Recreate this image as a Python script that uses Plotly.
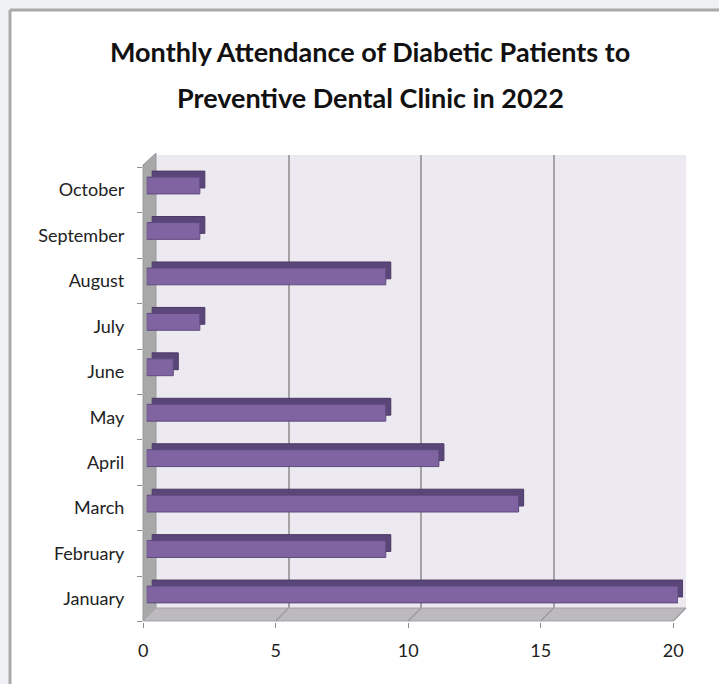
import plotly.graph_objects as go

months = ["January", "February", "March", "April", "May", "June",
          "July", "August", "September", "October"]
patients = [20, 9, 14, 11, 9, 1, 2, 9, 2, 2]
x_ticks = [0, 5, 10, 15, 20]
title_lines = ["Monthly Attendance of Diabetic Patients to",
               "Preventive Dental Clinic in 2022"]

W, H = 719, 684
def fx(p): return p / W
def fy(p): return 1 - p / H

FONT = "Lato"
FRONT = "#8064A2"
DARK = "#5B467A"
WALL = "#ECEAF0"
GRIDC = "#A4A4A4"

fig = go.Figure()

fig.add_trace(go.Scatter(x=[0, 20], y=[0, 1], mode="markers", marker=dict(opacity=0),
                         hoverinfo="skip", showlegend=False, xaxis="x", yaxis="y"))
fig.add_trace(go.Scatter(x=patients, y=months, mode="markers", marker=dict(opacity=0),
                         hoverinfo="skip", showlegend=False, xaxis="x2", yaxis="y2"))
fig.add_trace(go.Bar(x=patients, y=months, orientation="h", width=0.37,
                     marker=dict(color=DARK, line=dict(color="#4A3864", width=1)),
                     hoverinfo="skip", showlegend=False, xaxis="x3", yaxis="y3"))
fig.add_trace(go.Bar(x=patients, y=months, orientation="h", width=0.37,
                     marker=dict(color=FRONT, line=dict(color="#5E4A7E", width=1)),
                     showlegend=False, xaxis="x4", yaxis="y4"))

hidden_x = dict(range=[0, 20], visible=False, fixedrange=True, automargin=False)
hidden_y = dict(type="category", categoryorder="array", categoryarray=months,
                range=[-0.5, 9.5], visible=False, fixedrange=True, automargin=False)

shapes = [
    dict(type="rect", xref="paper", yref="paper", x0=fx(10), x1=1.0, y0=fy(10), y1=0,
         fillcolor="white", line=dict(width=0), layer="below"),
    dict(type="line", xref="paper", yref="paper", x0=fx(10), x1=fx(10), y0=fy(10), y1=0,
         line=dict(color="#A9A9A9", width=3), layer="below"),
    dict(type="line", xref="paper", yref="paper", x0=fx(10), x1=1.0, y0=fy(10), y1=fy(10),
         line=dict(color="#A9A9A9", width=3), layer="below"),
    dict(type="rect", xref="paper", yref="paper", x0=fx(156), x1=fx(686), y0=fy(155), y1=fy(608),
         fillcolor=WALL, line=dict(width=0), layer="below"),
    dict(type="path", xref="paper", yref="paper",
         path=f"M {fx(143)},{fy(165)} L {fx(156)},{fy(153)} L {fx(156)},{fy(608)} L {fx(143)},{fy(621)} Z",
         fillcolor="#A8A8A8", line=dict(color="#9A9A9A", width=1), layer="below"),
    dict(type="path", xref="paper", yref="paper",
         path=f"M {fx(143)},{fy(621)} L {fx(156)},{fy(608)} L {fx(686)},{fy(608)} L {fx(673)},{fy(621)} Z",
         fillcolor="#BCB9BF", line=dict(color="#A6A4A8", width=1), layer="below"),
]
for v in x_ticks[1:]:
    xb = 156 + v * (686 - 156) / 20
    xf = 143.3 + v * (673.3 - 143.3) / 20
    shapes.append(dict(type="line", xref="paper", yref="paper",
                       x0=fx(xb), y0=fy(608), x1=fx(xf), y1=fy(621),
                       line=dict(color="#9C9A9E", width=1.2), layer="below"))

annotations = [
    dict(text=f"<b>{title_lines[0]}</b>", xref="paper", yref="paper", x=fx(370), y=fy(52),
         showarrow=False, font=dict(family=FONT, size=27, color="#111111"),
         xanchor="center", yanchor="middle"),
    dict(text=f"<b>{title_lines[1]}</b>", xref="paper", yref="paper", x=fx(370), y=fy(98),
         showarrow=False, font=dict(family=FONT, size=27, color="#111111"),
         xanchor="center", yanchor="middle"),
]

fig.update_layout(
    width=W, height=H, autosize=False,
    margin=dict(l=0, r=0, t=0, b=0, pad=0),
    paper_bgcolor="#EEF0F3", plot_bgcolor="rgba(0,0,0,0)",
    barmode="overlay",
    font=dict(family=FONT, size=18, color="#222222"),
    xaxis=dict(domain=[fx(156), fx(686)], range=[0, 20], tickvals=x_ticks[1:],
               showgrid=True, gridcolor=GRIDC, gridwidth=1.5, showticklabels=False,
               zeroline=False, showline=False, ticks="", anchor="y", fixedrange=True,
               automargin=False),
    yaxis=dict(domain=[fy(608), fy(155)], range=[0, 1], visible=False, anchor="x",
               fixedrange=True, automargin=False),
    xaxis2=dict(domain=[fx(143.3), fx(673.3)], range=[0, 20], tickvals=x_ticks,
                ticks="outside", ticklen=5, tickcolor="#8E8E8E", showgrid=False,
                zeroline=False, showline=False, anchor="y2", ticklabelstandoff=8,
                fixedrange=True, automargin=False),
    yaxis2=dict(domain=[fy(621.7), fy(167.3)], type="category", categoryorder="array",
                categoryarray=months, range=[-0.5, 9.5], tickson="boundaries",
                ticks="outside", ticklen=5, tickcolor="#8E8E8E", showgrid=False,
                zeroline=False, showline=False, anchor="x2", ticklabelstandoff=18,
                fixedrange=True, automargin=False),
    xaxis3=dict(domain=[fx(151.7), fx(683)], anchor="y3", **hidden_x),
    yaxis3=dict(domain=[fy(611.2), fy(156.8)], anchor="x3", **hidden_y),
    xaxis4=dict(domain=[fx(146.7), fx(678)], anchor="y4", **hidden_x),
    yaxis4=dict(domain=[fy(617.2), fy(162.8)], anchor="x4", **hidden_y),
    shapes=shapes,
    annotations=annotations,
)

fig.write_html("out.html")
